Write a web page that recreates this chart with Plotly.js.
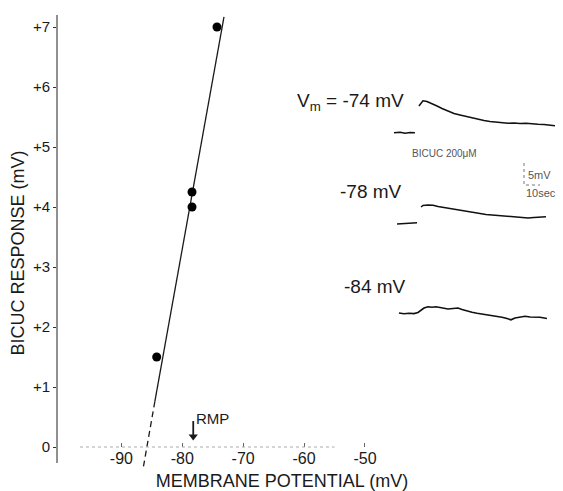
<!DOCTYPE html>
<html>
<head>
<meta charset="utf-8">
<script src="https://cdn.plot.ly/plotly-3.0.1.min.js"></script>
<style>html,body{margin:0;padding:0;background:#fff;}#chart{width:563px;height:491px;}</style>
</head>
<body>
<div id="chart"></div>
<script>
// ---- Data: membrane potential vs bicuculline response ----
const vmValues = [-84.2, -78.4, -78.4, -74.3];          // mV
const responseValues = [1.5, 4.0, 4.25, 7.0];           // mV
// Regression line (solid part then extrapolated dashed part)
const fitX = [-73.15, -84.5, -86.45];
const fitY = [7.17, 0.76, -0.37];
const rmpValue = -78.2;
const xTickVals = [-90, -80, -70, -60, -50];
const xTickText = ['-90', '-80', '-70', '-60', '-50'];
const yTickVals = [0, 1, 2, 3, 4, 5, 6, 7];
const yTickText = ['0', '+1', '+2', '+3', '+4', '+5', '+6', '+7'];

// ---- Inset recordings (time in s from bicuculline application, deflection in mV) ----
const trace74T = [-15, -11.2, -8.1, -5, -1.9, null, 0.6, 1.9, 3.1, 5.6, 8.75, 11.9, 15, 18.75, 22.5, 26.25, 30, 33.75, 37.5, 41.25, 45, 48.75, 52.5, 56.25, 60, 63.75, 67.5, 71.25, 75, 78.75, 82.5, 85.6];
const trace74V = [0, 0.12, -0.1, 0.05, 0, null, 6.07, 6.86, 7.27, 7.09, 6.64, 6.07, 5.5, 4.93, 4.36, 4.02, 3.68, 3.34, 3.11, 2.77, 2.55, 2.43, 2.25, 2.14, 2.2, 2.09, 2.16, 1.98, 1.93, 1.86, 1.68, 1.57];
const trace78T = [-13.1, -10, -6.9, -3.75, -0.6, null, 1.9, 3.1, 6.25, 9.4, 12.5, 16.25, 20, 23.75, 27.5, 31.25, 35, 38.75, 42.5, 46.25, 50, 53.75, 57.5, 61.25, 65, 68.75, 72.5, 76.25, 80];
const trace78V = [-0.12, -0.05, 0.03, 0.1, 0.16, null, 3.75, 4.09, 4.2, 4.14, 3.86, 3.64, 3.41, 3.18, 2.89, 2.61, 2.43, 2.27, 2.05, 1.93, 1.82, 1.64, 1.52, 1.36, 1.3, 1.25, 1.36, 1.48, 1.55];
const trace84T = [-11.9, -8.75, -5.6, -2.5, 0, 1.9, 3.75, 6.25, 8.75, 11.25, 13.75, 16.25, 18.75, 21.9, 25, 27.5, 30.6, 33.75, 36.9, 40, 43.1, 46.25, 49.4, 52.5, 55.6, 58.1, 60.6, 63.75, 66.9, 70, 73.1, 76.25, 78.75, 80.6];
const trace84V = [0.07, -0.11, 0, -0.07, 0.18, 0.75, 1.2, 1.5, 1.39, 1.48, 1.36, 1.14, 0.98, 1.09, 1.2, 0.86, 0.48, 0.23, 0, -0.16, -0.27, -0.5, -0.61, -0.89, -1.18, -1.48, -1.07, -0.8, -0.68, -0.84, -0.8, -0.91, -1.07, -1.18];
const scaleBarMV = 5;
const scaleBarSec = 10;

// ---- Layout helpers (pixel -> paper fraction) ----
const L = 57, R = 3, T = 15, B = 0, W = 563, H = 491;
const PW = W - L - R, PH = H - T - B;
const fx = px => (px - L) / PW;
const fy = py => (H - B - py) / PH;

const FONT = 'Liberation Sans, Arial, sans-serif';
const INK = '#1a1a1a';

const scaleT0 = 66.25;
const traces = [
  { x: fitX.slice(0, 2), y: fitY.slice(0, 2), mode: 'lines', line: { color: INK, width: 1.3 }, xaxis: 'x', yaxis: 'y', hoverinfo: 'skip' },
  { x: fitX.slice(1, 3), y: fitY.slice(1, 3), mode: 'lines', line: { color: INK, width: 1.3, dash: '6px,4px' }, xaxis: 'x', yaxis: 'y', hoverinfo: 'skip' },
  { x: vmValues, y: responseValues, mode: 'markers', marker: { color: '#000', size: 9 }, xaxis: 'x', yaxis: 'y' },
  // RMP arrow (shaft + head)
  { x: [rmpValue, rmpValue], y: [0.433, 0.2], mode: 'lines', line: { color: INK, width: 1.8 }, xaxis: 'x', yaxis: 'y', hoverinfo: 'skip' },
  { x: [rmpValue], y: [0.175], mode: 'markers', marker: { symbol: 'triangle-down', size: 8, color: INK }, xaxis: 'x', yaxis: 'y', hoverinfo: 'skip' },
  { x: trace74T, y: trace74V, mode: 'lines', line: { color: '#111', width: 1.5 }, xaxis: 'x2', yaxis: 'y2', connectgaps: false },
  { x: trace78T, y: trace78V, mode: 'lines', line: { color: '#111', width: 1.5 }, xaxis: 'x2', yaxis: 'y3', connectgaps: false },
  { x: trace84T, y: trace84V, mode: 'lines', line: { color: '#111', width: 1.6 }, xaxis: 'x2', yaxis: 'y4' },
  { x: [scaleT0, scaleT0, scaleT0 + scaleBarSec], y: [scaleBarMV, 0, 0], mode: 'lines', line: { color: '#777', width: 1, dash: 'dot' }, xaxis: 'x2', yaxis: 'y5' }
];

const hidden = { visible: false, fixedrange: true };
const txt = (px, py, text, size, color, xanchor) => ({
  x: fx(px), y: fy(py), xref: 'paper', yref: 'paper', xanchor: xanchor || 'center', yanchor: 'middle',
  text: text, showarrow: false, font: { size: size, color: color, family: FONT }
});

const layout = {
  width: W, height: H,
  margin: { l: L, r: R, t: T, b: B },
  paper_bgcolor: '#fff', plot_bgcolor: 'rgba(0,0,0,0)',
  showlegend: false,
  font: { family: FONT, color: INK },
  xaxis: {
    domain: [0, fx(507)],
    range: [-100.57, -26.68],
    anchor: 'free', position: fy(447),
    tickmode: 'array', tickvals: xTickVals, ticktext: xTickText,
    ticks: 'inside', ticklen: 4, tickcolor: '#666', tickwidth: 1,
    showline: false, showgrid: false, zeroline: false,
    tickfont: { size: 16, color: INK, family: FONT },
    title: { text: 'MEMBRANE POTENTIAL (mV)', font: { size: 18, color: INK, family: FONT }, standoff: 13 }
  },
  yaxis: {
    domain: [0, 1],
    range: [-0.733, 7.2],
    tickmode: 'array', tickvals: yTickVals, ticktext: yTickText,
    ticks: 'outside', ticklen: 3, tickcolor: '#333', tickwidth: 1,
    showline: false, showgrid: false, zeroline: false,
    tickfont: { size: 15, color: INK, family: FONT },
    title: { text: 'BICUC RESPONSE (mV)', font: { size: 18, color: INK, family: FONT }, standoff: 3 }
  },
  xaxis2: Object.assign({ domain: [fx(390), fx(560)], range: [-17.5, 88.75], anchor: 'y2' }, hidden),
  yaxis2: Object.assign({ domain: [fy(140), fy(95)], range: [-1.659, 8.568], anchor: 'x2' }, hidden),
  yaxis3: Object.assign({ domain: [fy(230), fy(195)], range: [-1.477, 6.477], anchor: 'x2' }, hidden),
  yaxis4: Object.assign({ domain: [fy(325), fy(300)], range: [-2.659, 3.023], anchor: 'x2' }, hidden),
  yaxis5: Object.assign({ domain: [fy(190), fy(160)], range: [-1.136, 5.682], anchor: 'x2' }, hidden),
  shapes: [
    { type: 'line', xref: 'paper', yref: 'paper', x0: 0, x1: 0, y0: fy(463), y1: 1, line: { color: '#222', width: 1 } },
    { type: 'line', xref: 'x', yref: 'y', x0: -96.8, x1: -55, y0: 0, y1: 0, line: { color: '#aaa', width: 1, dash: 'dot' } }
  ],
  annotations: [
    txt(212, 418, 'RMP', 15, INK),
    txt(406, 102, 'V<sub>m</sub> = -74 mV', 19, INK, 'right'),
    txt(404, 191, '-78 mV', 19, INK, 'right'),
    txt(408, 286, '-84 mV', 19, INK, 'right'),
    txt(444, 154, 'BICUC 200μM', 10, '#555'),
    txt(526, 175, '5mV', 11, '#555', 'left'),
    txt(524, 193, '10sec', 11, '#555', 'left')
  ]
};

Plotly.newPlot('chart', traces, layout, { staticPlot: true, displayModeBar: false });
</script>
</body>
</html>
